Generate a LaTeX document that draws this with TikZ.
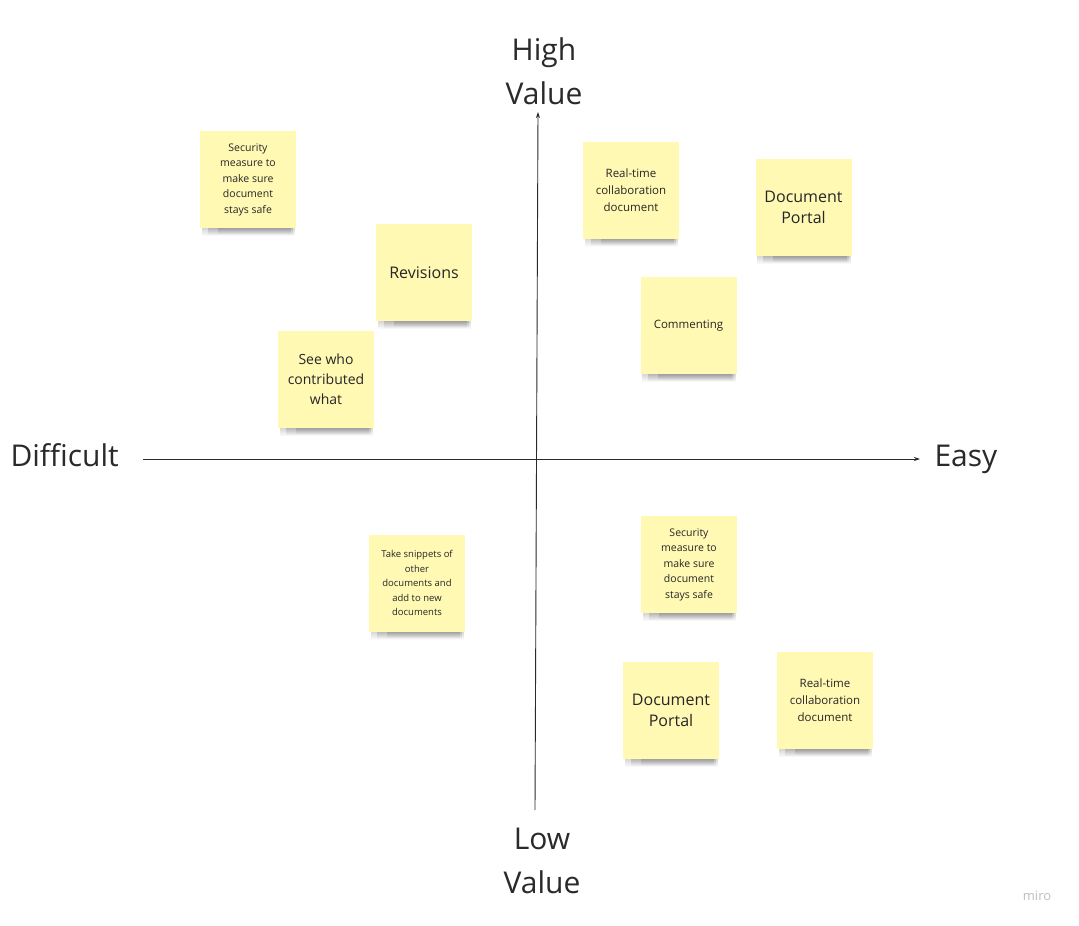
\documentclass[tikz,border=0pt]{standalone}
\usepackage{fontspec}
\setmainfont{Open Sans}
\usetikzlibrary{fadings,arrows.meta}
\definecolor{stickyc}{HTML}{FFF9B4}
\definecolor{inkc}{HTML}{262626}
\definecolor{axisc}{HTML}{2A2A2A}
\tikzset{
  sticky/.style={fill=stickyc, draw=none, minimum width=96pt, minimum height=97pt,
    align=center, text=inkc, inner sep=2pt},
  axislabel/.style={font=\fontsize{30}{44}\selectfont, text=axisc, align=center},
  axisline/.style={draw=axisc, line width=0.9pt, -{Stealth[length=6pt,width=4pt]}},
  shadowfill/.style={fill=black!70, opacity=0.22, path fading=south},
}
\begin{document}
\begin{tikzpicture}[x=1pt,y=-1pt]
\useasboundingbox[fill=white] (0,0) rectangle (1079,926);

% axes
\coordinate (hl) at (143,459);
\coordinate (hr) at (920,459);
\coordinate (vb) at (535,810);
\coordinate (vt) at (538,112);
\draw[axisline] (hl) -- (hr);
\draw[axisline] (vb) -- (vt);

\node[axislabel] (high) at (544,71) {High\\Value};
\node[axislabel] (low) at (542,861) {Low\\Value};
\node[axislabel, anchor=base west] (diff) at (7,466) {Difficult};
\node[axislabel, anchor=base west] (easy) at (931,466) {Easy};
\node[text=black!25, font=\fontsize{13}{15}\selectfont] (miro) at (1037,896) {miro};

% sticky notes
\node[sticky, font=\fontsize{10.5}{15.5}\selectfont] (s1) at (248,179.5) {Security\\measure to\\make sure\\document\\stays safe};
\node[sticky, font=\fontsize{16}{21}\selectfont] (s2) at (424,272.5) {Revisions};
\node[sticky, font=\fontsize{14}{20}\selectfont] (s3) at (326,379.5) {See who\\contributed\\what};
\node[sticky, font=\fontsize{11.5}{17}\selectfont] (s4) at (631,190) {Real-time\\collaboration\\document};
\node[sticky, font=\fontsize{16}{21}\selectfont] (s5) at (803.5,207.5) {Document\\Portal};
\node[sticky, font=\fontsize{11.5}{17}\selectfont] (s6) at (688.5,325.5) {Commenting};
\node[sticky, font=\fontsize{9.5}{14.5}\selectfont] (s7) at (417,583) {Take snippets of\\other\\documents and\\add to new\\documents};
\node[sticky, font=\fontsize{10.5}{15.5}\selectfont] (s8) at (689,564.5) {Security\\measure to\\make sure\\document\\stays safe};
\node[sticky, font=\fontsize{16}{21}\selectfont] (s9) at (671,710.5) {Document\\Portal};
\node[sticky, font=\fontsize{11.5}{17}\selectfont] (s10) at (825,700.5) {Real-time\\collaboration\\document};

\foreach \n in {s1,s2,s3,s4,s5,s6,s7,s8,s9,s10}{
  \fill[shadowfill] ([xshift=2pt]\n.south west) rectangle ([xshift=-1pt,yshift=-8pt]\n.south east);
  \fill[shadowfill] ([xshift=8pt]\n.south west) rectangle ([xshift=-3pt,yshift=-7pt]\n.south east);
  \fill[shadowfill] ([xshift=18pt]\n.south west) rectangle ([xshift=-5pt,yshift=-6pt]\n.south east);
}
\end{tikzpicture}
\end{document}
